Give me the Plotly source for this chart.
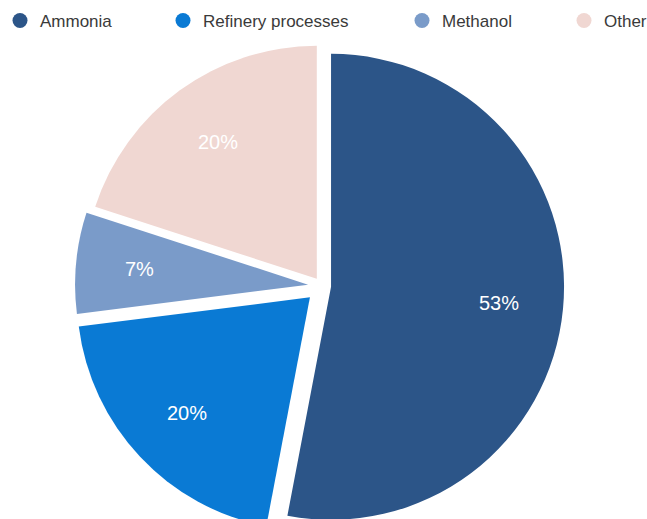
import math
import plotly.graph_objects as go

# Hydrogen demand by end use (share of total, %)
labels = ["Ammonia", "Refinery processes", "Methanol", "Other"]
values = [53, 20, 7, 20]
colors = ["#2C5588", "#0A7AD4", "#7A9BC9", "#F0D7D2"]
pulls = [0.039, 0.071, 0.06, 0.038]
legend_widths = [118, 194, 117, 42]

W, H = 647, 540
cx, cy, r = 322, 286, 233          # pie centre and radius, px
half = r * (1 + max(pulls))
label_frac = 0.725                  # label distance from slice tip, as a share of r
font_family = "Liberation Sans, Arial, sans-serif"

fig = go.Figure()
fig.add_trace(go.Pie(
    labels=labels,
    values=values,
    sort=False,
    direction="clockwise",
    rotation=0,
    pull=pulls,
    marker=dict(colors=colors, line=dict(width=0)),
    textinfo="none",
    domain=dict(x=[(cx - half) / W, (cx + half) / W],
                y=[(H - cy - half) / H, (H - cy + half) / H]),
    showlegend=False,
    hoverinfo="skip",
))

# percentage labels placed along each slice's bisector
total = sum(values)
start = 0.0
for v, p in zip(values, pulls):
    share = v / total
    mid = 2 * math.pi * (start + share / 2)
    dx, dy = math.sin(mid), -math.cos(mid)
    px = cx + (p + label_frac) * r * dx
    py = cy + (p + label_frac) * r * dy
    fig.add_annotation(
        x=px / W, y=1 - py / H, xref="paper", yref="paper",
        xanchor="center", yanchor="middle",
        text=f"{share * 100:.0f}%", showarrow=False,
        font=dict(color="white", size=20, family=font_family),
    )
    start += share

# round legend markers, one entry per category
for name, col, lw in zip(labels, colors, legend_widths):
    fig.add_trace(go.Scatter(
        x=[None], y=[None], mode="markers", name=name,
        marker=dict(symbol="circle", size=15, color=col),
        legendwidth=lw, hoverinfo="skip",
    ))

fig.update_layout(
    width=W, height=H,
    margin=dict(l=0, r=0, t=0, b=0),
    paper_bgcolor="white", plot_bgcolor="white",
    xaxis=dict(visible=False), yaxis=dict(visible=False),
    showlegend=True,
    legend=dict(orientation="h", x=0, xanchor="left", y=1 - 3 / H, yanchor="top",
                font=dict(size=17, color="#3a3a3a", family=font_family),
                bgcolor="rgba(0,0,0,0)"),
)

fig.write_html("out.html", post_script="document.body.style.overflow='hidden';")
